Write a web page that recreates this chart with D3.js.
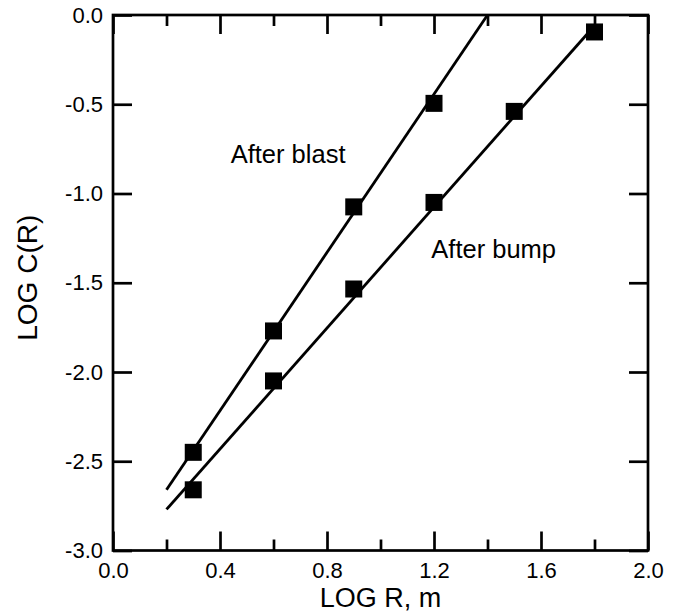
<!DOCTYPE html>
<html>
<head>
<meta charset="utf-8">
<script src="https://cdn.jsdelivr.net/npm/d3@7"></script>
<style>
  html, body { margin: 0; padding: 0; background: #fff; }
  svg { display: block; font-family: "Liberation Sans", Arial, sans-serif; }
</style>
</head>
<body>
<svg id="chart" width="677" height="615"></svg>
<script>
// ---- data ----
const blastX = [0.3, 0.6, 0.9, 1.2];
const blastY = [-2.45, -1.77, -1.075, -0.495];
const bumpX = [0.3, 0.6, 0.9, 1.2, 1.5, 1.8];
const bumpY = [-2.66, -2.05, -1.535, -1.05, -0.54, -0.095];
// fitted lines (end points)
const blastFitX = [0.2, 1.4];
const blastFitY = [-2.66, 0.0];
const bumpFitX = [0.2, 1.8];
const bumpFitY = [-2.77, -0.06];
const xMajorTicks = [0.0, 0.4, 0.8, 1.2, 1.6, 2.0];
const xMinorTicks = [0.2, 0.6, 1.0, 1.4, 1.8];
const yTicks = [0.0, -0.5, -1.0, -1.5, -2.0, -2.5, -3.0];
const labels = [
  { text: "After blast", x: 0.44, y: -0.83 },
  { text: "After bump", x: 1.19, y: -1.36 }
];
const xTitle = "LOG R, m";
const yTitle = "LOG C(R)";

// ---- layout ----
const mLeft = 113, mRight = 648, mTop = 15, mBottom = 550.5;
const svg = d3.select("#chart");
const x = d3.scaleLinear().domain([0, 2]).range([mLeft, mRight]);
const y = d3.scaleLinear().domain([-3, 0]).range([mBottom, mTop]);

const fmt = v => v.toFixed(1).replace("\u2212", "-");
const lw = 2.7;

function styleAxis(g) {
  g.attr("font-size", 22).attr("font-family", "'Liberation Sans', Arial, sans-serif");
  g.select(".domain").remove();
  g.selectAll(".tick line").attr("stroke", "#000").attr("stroke-width", lw);
  g.selectAll(".tick text").attr("fill", "#000").style("font-size", "22px");
}

// bottom axis (major, labels)
svg.append("g").attr("transform", `translate(0,${mBottom})`)
  .call(d3.axisBottom(x).tickValues(xMajorTicks).tickFormat(fmt).tickSize(-19).tickPadding(12))
  .call(styleAxis);
svg.append("g").attr("transform", `translate(0,${mBottom})`)
  .call(d3.axisBottom(x).tickValues(xMinorTicks).tickFormat("").tickSize(-11))
  .call(styleAxis);
// top axis
svg.append("g").attr("transform", `translate(0,${mTop})`)
  .call(d3.axisTop(x).tickValues(xMajorTicks).tickFormat("").tickSize(-19))
  .call(styleAxis);
svg.append("g").attr("transform", `translate(0,${mTop})`)
  .call(d3.axisTop(x).tickValues(xMinorTicks).tickFormat("").tickSize(-11))
  .call(styleAxis);
// left axis
svg.append("g").attr("transform", `translate(${mLeft},0)`)
  .call(d3.axisLeft(y).tickValues(yTicks).tickFormat(fmt).tickSize(-19).tickPadding(10))
  .call(styleAxis);
// right axis
svg.append("g").attr("transform", `translate(${mRight},0)`)
  .call(d3.axisRight(y).tickValues(yTicks).tickFormat("").tickSize(-19))
  .call(styleAxis);

// frame
svg.append("rect")
  .attr("x", mLeft).attr("y", mTop)
  .attr("width", mRight - mLeft).attr("height", mBottom - mTop)
  .attr("fill", "none").attr("stroke", "#000").attr("stroke-width", lw);

// fit lines
const line = d3.line().x(d => x(d[0])).y(d => y(d[1]));
[[blastFitX, blastFitY], [bumpFitX, bumpFitY]].forEach(([xs, ys]) => {
  svg.append("path")
    .datum(xs.map((v, i) => [v, ys[i]]))
    .attr("d", line)
    .attr("fill", "none").attr("stroke", "#000").attr("stroke-width", 2.8);
});

// markers
const sz = 17;
[[blastX, blastY], [bumpX, bumpY]].forEach(([xs, ys]) => {
  svg.append("g").selectAll("rect")
    .data(xs.map((v, i) => [v, ys[i]]))
    .join("rect")
    .attr("x", d => x(d[0]) - sz / 2)
    .attr("y", d => y(d[1]) - sz / 2)
    .attr("width", sz).attr("height", sz)
    .attr("fill", "#000");
});

// annotations
svg.append("g").selectAll("text").data(labels).join("text")
  .attr("x", d => x(d.x)).attr("y", d => y(d.y))
  .attr("font-size", 25.5).attr("fill", "#000")
  .text(d => d.text);

// axis titles
svg.append("text")
  .attr("x", (mLeft + mRight) / 2).attr("y", 607)
  .attr("text-anchor", "middle").attr("font-size", 27).attr("fill", "#000")
  .text(xTitle);
svg.append("text")
  .attr("transform", `translate(37,${(mTop + mBottom) / 2 - 5}) rotate(-90)`)
  .attr("text-anchor", "middle").attr("font-size", 28).attr("fill", "#000")
  .text(yTitle);
</script>
</body>
</html>
